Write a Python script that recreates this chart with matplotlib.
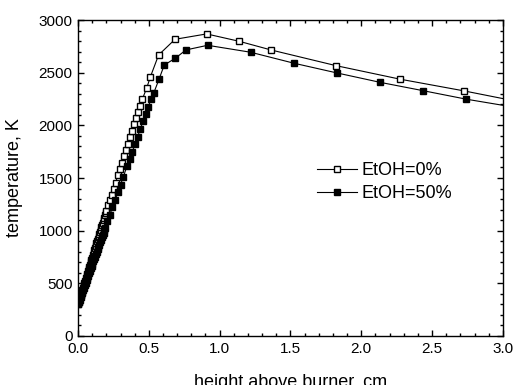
import matplotlib
matplotlib.use('Agg')
import matplotlib.pyplot as plt
from matplotlib.ticker import MultipleLocator

plt.rcParams['font.family'] = ['Liberation Sans', 'DejaVu Sans']

# EtOH = 0 % (open squares)
h0 = [0.000, 0.005, 0.010, 0.015, 0.020, 0.025, 0.030, 0.035, 0.040, 0.045,
      0.050, 0.055, 0.060, 0.065, 0.070, 0.075, 0.080, 0.085, 0.090, 0.095,
      0.100, 0.105, 0.110, 0.115, 0.120, 0.125, 0.130, 0.135, 0.140, 0.145,
      0.150, 0.155, 0.160, 0.165, 0.170, 0.175, 0.180, 0.185, 0.190, 0.195,
      0.200, 0.212, 0.225, 0.238, 0.252, 0.266, 0.280, 0.296, 0.311, 0.325,
      0.341, 0.353, 0.369, 0.383, 0.398, 0.412, 0.426, 0.440, 0.454, 0.485,
      0.510, 0.569, 0.685, 0.908, 1.138, 1.362, 1.821, 2.275, 2.726, 3.18]
T0 = [300, 322, 345, 367, 390, 412, 435, 457, 480, 502,
      525, 547, 570, 592, 615, 635, 655, 678, 700, 722,
      745, 767, 790, 812, 835, 857, 880, 900, 920, 942,
      965, 987, 1010, 1032, 1055, 1077, 1100, 1122, 1145, 1167,
      1190, 1240, 1290, 1336, 1399, 1456, 1526, 1586, 1646, 1709,
      1766, 1826, 1893, 1950, 2010, 2067, 2127, 2187, 2248, 2355,
      2457, 2668, 2817, 2868, 2798, 2716, 2567, 2438, 2327, 2206]

# EtOH = 50 % (filled squares)
h50 = [0.000, 0.006, 0.012, 0.018, 0.024, 0.030, 0.036, 0.042, 0.048, 0.054,
       0.060, 0.066, 0.072, 0.078, 0.084, 0.090, 0.096, 0.102, 0.108, 0.114,
       0.120, 0.126, 0.132, 0.138, 0.144, 0.150, 0.156, 0.162, 0.168, 0.174,
       0.180, 0.186, 0.192, 0.208, 0.225, 0.243, 0.262, 0.281, 0.300, 0.319,
       0.345, 0.364, 0.383, 0.402, 0.421, 0.440, 0.459, 0.478, 0.496, 0.515,
       0.534, 0.572, 0.609, 0.687, 0.762, 0.915, 1.219, 1.527, 1.830, 2.134,
       2.437, 2.743, 3.05]
T50 = [300, 323, 345, 368, 390, 413, 436, 459, 481, 504,
       527, 550, 572, 595, 618, 641, 663, 686, 709, 732,
       754, 777, 800, 823, 845, 868, 890, 913, 936, 959,
       981, 1004, 1027, 1088, 1152, 1220, 1292, 1364, 1436, 1508,
       1610, 1680, 1750, 1820, 1893, 1966, 2039, 2108, 2175, 2248,
       2305, 2438, 2573, 2637, 2716, 2760, 2694, 2589, 2497, 2408,
       2329, 2248, 2179]

fig = plt.figure(figsize=(5.15, 3.85), dpi=100)
ax = fig.add_axes([0.1515, 0.1273, 0.825, 0.8207])

ax.plot(h0, T0, color='black', lw=0.8, marker='s', ms=4.2, mfc='white',
        mec='black', mew=1.0, label='EtOH=0%')
ax.plot(h50, T50, color='black', lw=0.8, marker='s', ms=4.8, mfc='black',
        mec='black', label='EtOH=50%')

ax.set_xlim(0, 3.0)
ax.set_ylim(0, 3000)
ax.xaxis.set_major_locator(MultipleLocator(0.5))
ax.xaxis.set_minor_locator(MultipleLocator(0.1))
ax.yaxis.set_major_locator(MultipleLocator(500))
ax.yaxis.set_minor_locator(MultipleLocator(100))
ax.tick_params(which='both', direction='in', top=True, right=True,
               labelsize=11, width=1.0)
ax.tick_params(which='major', length=4, pad=4)
ax.tick_params(which='minor', length=2.2)
for s in ax.spines.values():
    s.set_linewidth(1.0)

ax.set_xlabel('height above burner, cm', fontsize=13, labelpad=13)
ax.set_ylabel('temperature, K', fontsize=13, labelpad=11)

ax.legend(loc='center left', bbox_to_anchor=(0.562, 0.487), frameon=False,
          fontsize=13, borderpad=0, borderaxespad=0, handlelength=2.2,
          handletextpad=0.3, labelspacing=0.3)

fig.savefig('out.png', dpi=100)
